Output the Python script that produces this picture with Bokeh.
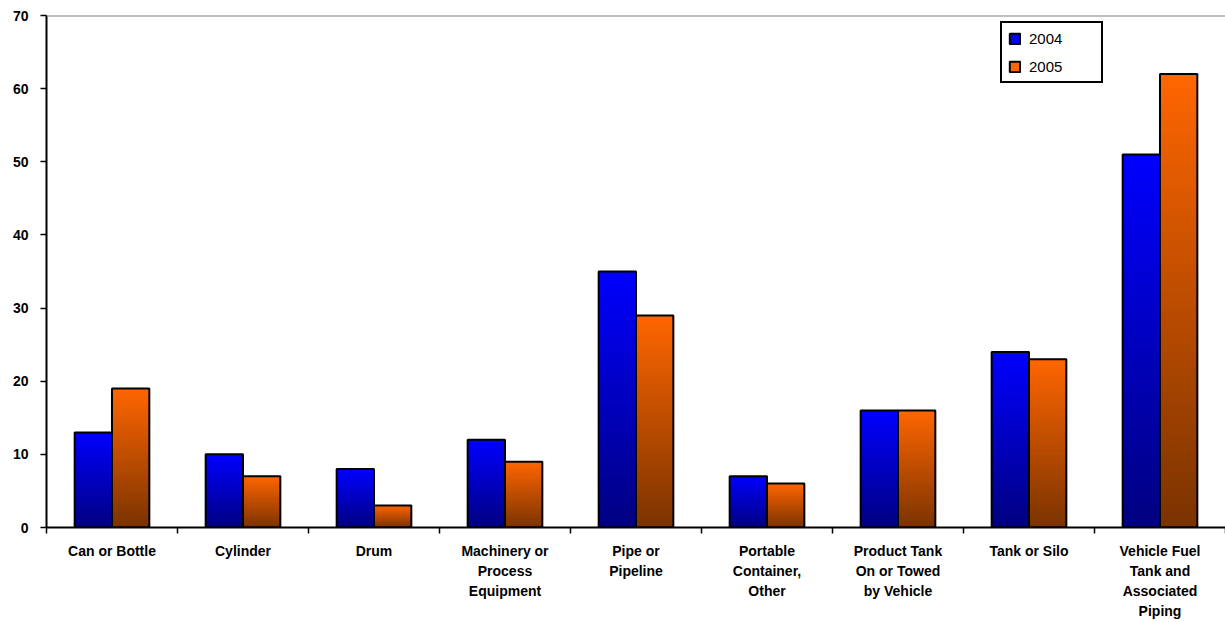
from bokeh.plotting import figure
from bokeh.models import (Range1d, FixedTicker, CustomJSTickFormatter, Span,
                          Legend, LegendItem, ColumnDataSource, LinearAxis)
from bokeh.embed import file_html
from bokeh.resources import INLINE

categories = ["Can or Bottle", "Cylinder", "Drum", "Machinery or\nProcess\nEquipment",
              "Pipe or\nPipeline", "Portable\nContainer,\nOther",
              "Product Tank\nOn or Towed\nby Vehicle", "Tank or Silo",
              "Vehicle Fuel\nTank and\nAssociated\nPiping"]
values_2004 = [13, 10, 8, 12, 35, 7, 16, 24, 51]
values_2005 = [19, 7, 3, 9, 29, 6, 16, 23, 62]
series_names = ["2004", "2005"]
y_ticks = [0, 10, 20, 30, 40, 50, 60, 70]

FONT = "Liberation Sans"
N = 60
BAR_W = 0.285

def grad_source(vals, offset, top_rgb, bot_rgb):
    left, right, bottom, top, color = [], [], [], [], []
    for k in range(N):
        frac_top = (N - k) / N
        t = (N - k - 0.5) / N
        r = round(bot_rgb[0] + (top_rgb[0] - bot_rgb[0]) * t)
        g = round(bot_rgb[1] + (top_rgb[1] - bot_rgb[1]) * t)
        b = round(bot_rgb[2] + (top_rgb[2] - bot_rgb[2]) * t)
        c = "#%02x%02x%02x" % (r, g, b)
        for i, v in enumerate(vals):
            x = i + 0.5 + offset
            left.append(x - BAR_W / 2)
            right.append(x + BAR_W / 2)
            bottom.append(0)
            top.append(v * frac_top)
            color.append(c)
    return ColumnDataSource(dict(left=left, right=right, bottom=bottom, top=top, color=color))

p = figure(width=1225, height=622, output_backend="svg", toolbar_location=None,
           x_range=Range1d(0, len(categories)), y_range=Range1d(0, 70),
           min_border_left=46, min_border_right=0, min_border_top=15, min_border_bottom=95,
           x_axis_type=None, y_axis_type=None)
p.outline_line_color = None
p.background_fill_color = "white"
p.xgrid.visible = False

# gradient bars
specs = [(values_2004, -BAR_W / 2, (0, 0, 255), (0, 0, 128)),
         (values_2005, BAR_W / 2, (255, 102, 0), (122, 51, 0))]
legend_renderers = []
for vals, off, trgb, brgb in specs:
    src = grad_source(vals, off, trgb, brgb)
    rq = p.quad(left="left", right="right", bottom="bottom", top="top", fill_color="color",
                line_color=None, source=src)
    xs = [i + 0.5 + off for i in range(len(vals))]
    ro = p.vbar(x=xs, top=vals, width=BAR_W, fill_color=None, line_color="black", line_width=2)
    legend_renderers.append([rq, ro])

# axes
yaxis = LinearAxis(ticker=FixedTicker(ticks=y_ticks))
yaxis.axis_line_width = 2
yaxis.axis_line_color = "black"
yaxis.major_tick_out = 6
yaxis.major_tick_in = 0
yaxis.major_tick_line_width = 1.5
yaxis.minor_tick_line_color = None
yaxis.major_label_standoff = 12
yaxis.major_label_text_font = FONT
yaxis.major_label_text_font_style = "bold"
yaxis.major_label_text_font_size = "14px"
yaxis.major_label_text_color = "black"
p.add_layout(yaxis, "left")

xaxis = LinearAxis(ticker=FixedTicker(ticks=[i + 0.5 for i in range(len(categories))],
                                      minor_ticks=list(range(len(categories) + 1))))
xaxis.formatter = CustomJSTickFormatter(args=dict(labels=categories),
                                        code="return labels[Math.floor(tick)];")
xaxis.axis_line_width = 2
xaxis.axis_line_color = "black"
xaxis.major_tick_line_color = None
xaxis.major_tick_out = 0
xaxis.major_tick_in = 0
xaxis.minor_tick_out = 6
xaxis.minor_tick_in = 0
xaxis.minor_tick_line_color = "black"
xaxis.minor_tick_line_width = 1.5
xaxis.major_label_standoff = 9
xaxis.major_label_text_font = FONT
xaxis.major_label_text_font_style = "bold"
xaxis.major_label_text_font_size = "14px"
xaxis.major_label_text_color = "black"
xaxis.major_label_text_line_height = 1.26
p.add_layout(xaxis, "below")

p.ygrid.ticker = FixedTicker(ticks=[10, 20, 30, 40, 50, 60])
p.ygrid.grid_line_color = "black"
p.ygrid.grid_line_width = 1

p.add_layout(Span(location=70, dimension="width", line_color="#808080", line_width=2))

legend = Legend(items=[LegendItem(label=series_names[0], renderers=legend_renderers[0], index=0),
                       LegendItem(label=series_names[1], renderers=legend_renderers[1], index=0)],
                location=(954, 444))
legend.border_line_color = "black"
legend.border_line_width = 2
legend.border_line_alpha = 1
legend.background_fill_color = "white"
legend.background_fill_alpha = 1
legend.padding = 6
legend.spacing = 10
legend.label_height = 18
legend.glyph_height = 13
legend.glyph_width = 13
legend.label_standoff = 8
legend.label_width = 66
legend.margin = 0
legend.label_text_font = FONT
legend.label_text_font_size = "15px"
legend.label_text_color = "black"
p.add_layout(legend, "center")

open("out.html", "w").write(file_html(p, INLINE))
